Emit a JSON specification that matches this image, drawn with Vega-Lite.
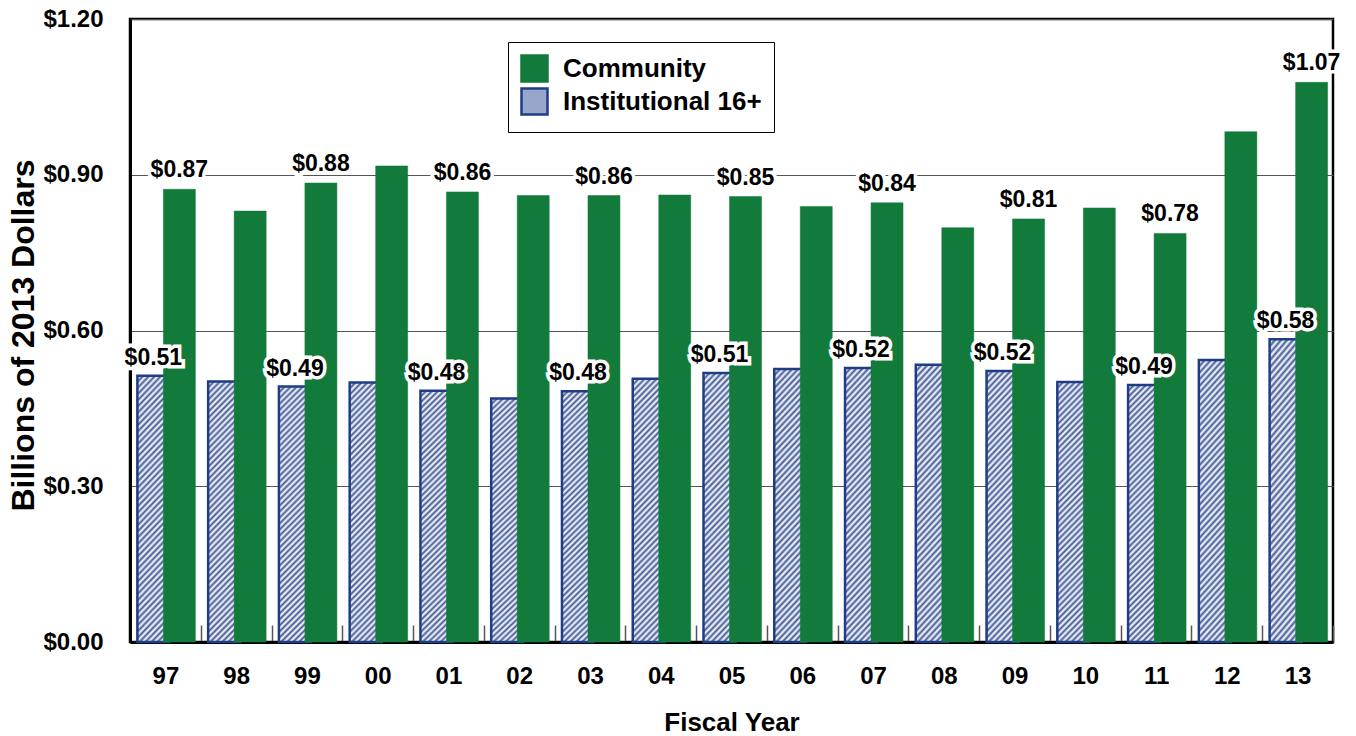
{
  "$schema": "https://vega.github.io/schema/vega-lite/v6.json",
  "width": 1203,
  "height": 623,
  "autosize": {"type": "none"},
  "padding": {"left": 130, "top": 19, "right": 23, "bottom": 94},
  "background": "white",
  "config": {
    "view": {"stroke": "black", "strokeWidth": 2.5},
    "font": "Liberation Sans",
    "legend": {
      "symbolType": "square",
      "symbolSize": 676,
      "symbolStrokeWidth": 2.5,
      "labelFont": "Liberation Sans",
      "labelFontSize": 26,
      "labelFontWeight": "bold",
      "labelColor": "black",
      "labelOffset": 14,
      "labelLimit": 400,
      "padding": 12,
      "rowPadding": -8,
      "strokeColor": "black",
      "fillColor": "white"
    }
  },
  "data": {
    "values": [
      {"year": "97", "series": "Community", "value": 0.872, "label": "$0.87"},
      {"year": "98", "series": "Community", "value": 0.830},
      {"year": "99", "series": "Community", "value": 0.884, "label": "$0.88"},
      {"year": "00", "series": "Community", "value": 0.917},
      {"year": "01", "series": "Community", "value": 0.867, "label": "$0.86"},
      {"year": "02", "series": "Community", "value": 0.860},
      {"year": "03", "series": "Community", "value": 0.860, "label": "$0.86"},
      {"year": "04", "series": "Community", "value": 0.861},
      {"year": "05", "series": "Community", "value": 0.858, "label": "$0.85"},
      {"year": "06", "series": "Community", "value": 0.839},
      {"year": "07", "series": "Community", "value": 0.846, "label": "$0.84"},
      {"year": "08", "series": "Community", "value": 0.798},
      {"year": "09", "series": "Community", "value": 0.815, "label": "$0.81"},
      {"year": "10", "series": "Community", "value": 0.836},
      {"year": "11", "series": "Community", "value": 0.787, "label": "$0.78"},
      {"year": "12", "series": "Community", "value": 0.983},
      {"year": "13", "series": "Community", "value": 1.078, "label": "$1.07"},
      {"year": "97", "series": "Institutional 16+", "value": 0.513, "label": "$0.51"},
      {"year": "98", "series": "Institutional 16+", "value": 0.502},
      {"year": "99", "series": "Institutional 16+", "value": 0.492, "label": "$0.49"},
      {"year": "00", "series": "Institutional 16+", "value": 0.500},
      {"year": "01", "series": "Institutional 16+", "value": 0.484, "label": "$0.48"},
      {"year": "02", "series": "Institutional 16+", "value": 0.469},
      {"year": "03", "series": "Institutional 16+", "value": 0.483, "label": "$0.48"},
      {"year": "04", "series": "Institutional 16+", "value": 0.507},
      {"year": "05", "series": "Institutional 16+", "value": 0.518, "label": "$0.51"},
      {"year": "06", "series": "Institutional 16+", "value": 0.526},
      {"year": "07", "series": "Institutional 16+", "value": 0.528, "label": "$0.52"},
      {"year": "08", "series": "Institutional 16+", "value": 0.534},
      {"year": "09", "series": "Institutional 16+", "value": 0.522, "label": "$0.52"},
      {"year": "10", "series": "Institutional 16+", "value": 0.501},
      {"year": "11", "series": "Institutional 16+", "value": 0.495, "label": "$0.49"},
      {"year": "12", "series": "Institutional 16+", "value": 0.543},
      {"year": "13", "series": "Institutional 16+", "value": 0.583, "label": "$0.58"}
    ]
  },
  "encoding": {
    "x": {
      "field": "year",
      "type": "ordinal",
      "scale": {
        "domain": ["97", "98", "99", "00", "01", "02", "03", "04", "05", "06", "07", "08", "09", "10", "11", "12", "13"],
        "paddingInner": 0,
        "paddingOuter": 0
      },
      "axis": {
        "title": "Fiscal Year",
        "labelAngle": 0,
        "labelFont": "Liberation Sans",
        "labelFontSize": 24,
        "labelFontWeight": "bold",
        "labelColor": "black",
        "labelPadding": 39,
        "tickBand": "extent",
        "tickSize": -17,
        "tickColor": "#555555",
        "tickWidth": 1.5,
        "domainColor": "black",
        "domainWidth": 3,
        "titleFont": "Liberation Sans",
        "titleFontSize": 26,
        "titleFontWeight": "bold",
        "titleColor": "black",
        "titleY": 88,
        "titleBaseline": "alphabetic"
      }
    },
    "y": {
      "field": "value",
      "type": "quantitative",
      "scale": {"domain": [0, 1.2], "nice": false},
      "axis": {
        "title": "Billions of 2013 Dollars",
        "values": [0, 0.3, 0.6, 0.9, 1.2],
        "format": "$.2f",
        "labelFont": "Liberation Sans",
        "labelFontSize": 24,
        "labelFontWeight": "bold",
        "labelColor": "black",
        "labelPadding": 27,
        "ticks": false,
        "domainColor": "black",
        "domainWidth": 3,
        "grid": true,
        "gridColor": "#555555",
        "gridWidth": 1.2,
        "titleFont": "Liberation Sans",
        "titleFontSize": 32,
        "titleFontWeight": "bold",
        "titleColor": "black",
        "titleAngle": 270,
        "titleX": -97,
        "titleY": 316,
        "titleBaseline": "alphabetic"
      }
    }
  },
  "layer": [
    {
      "transform": [{"filter": "datum.series === 'Institutional 16+'"}],
      "mark": {"type": "bar", "width": 32, "xOffset": -12, "strokeWidth": 2.5,
        "fill": {"gradient": "linear", "x1": 0, "y1": 0, "x2": 0.1385, "y2": 1.108, "stops": [
              {"offset": 0, "color": "#42599a"}, {"offset": 0.0104, "color": "#ffffff"}, {"offset": 0.0208, "color": "#42599a"}, {"offset": 0.0313, "color": "#ffffff"}, {"offset": 0.0417, "color": "#42599a"}, {"offset": 0.0521, "color": "#ffffff"}, {"offset": 0.0625, "color": "#42599a"}, {"offset": 0.0729, "color": "#ffffff"}, {"offset": 0.0833, "color": "#42599a"}, {"offset": 0.0938, "color": "#ffffff"}, {"offset": 0.1042, "color": "#42599a"}, {"offset": 0.1146, "color": "#ffffff"}, {"offset": 0.125, "color": "#42599a"}, {"offset": 0.1354, "color": "#ffffff"}, {"offset": 0.1458, "color": "#42599a"}, {"offset": 0.1563, "color": "#ffffff"}, {"offset": 0.1667, "color": "#42599a"}, {"offset": 0.1771, "color": "#ffffff"}, {"offset": 0.1875, "color": "#42599a"}, {"offset": 0.1979, "color": "#ffffff"}, {"offset": 0.2083, "color": "#42599a"}, {"offset": 0.2188, "color": "#ffffff"}, {"offset": 0.2292, "color": "#42599a"}, {"offset": 0.2396, "color": "#ffffff"},
              {"offset": 0.25, "color": "#42599a"}, {"offset": 0.2604, "color": "#ffffff"}, {"offset": 0.2708, "color": "#42599a"}, {"offset": 0.2813, "color": "#ffffff"}, {"offset": 0.2917, "color": "#42599a"}, {"offset": 0.3021, "color": "#ffffff"}, {"offset": 0.3125, "color": "#42599a"}, {"offset": 0.3229, "color": "#ffffff"}, {"offset": 0.3333, "color": "#42599a"}, {"offset": 0.3438, "color": "#ffffff"}, {"offset": 0.3542, "color": "#42599a"}, {"offset": 0.3646, "color": "#ffffff"}, {"offset": 0.375, "color": "#42599a"}, {"offset": 0.3854, "color": "#ffffff"}, {"offset": 0.3958, "color": "#42599a"}, {"offset": 0.4063, "color": "#ffffff"}, {"offset": 0.4167, "color": "#42599a"}, {"offset": 0.4271, "color": "#ffffff"}, {"offset": 0.4375, "color": "#42599a"}, {"offset": 0.4479, "color": "#ffffff"}, {"offset": 0.4583, "color": "#42599a"}, {"offset": 0.4688, "color": "#ffffff"}, {"offset": 0.4792, "color": "#42599a"}, {"offset": 0.4896, "color": "#ffffff"},
              {"offset": 0.5, "color": "#42599a"}, {"offset": 0.5104, "color": "#ffffff"}, {"offset": 0.5208, "color": "#42599a"}, {"offset": 0.5313, "color": "#ffffff"}, {"offset": 0.5417, "color": "#42599a"}, {"offset": 0.5521, "color": "#ffffff"}, {"offset": 0.5625, "color": "#42599a"}, {"offset": 0.5729, "color": "#ffffff"}, {"offset": 0.5833, "color": "#42599a"}, {"offset": 0.5938, "color": "#ffffff"}, {"offset": 0.6042, "color": "#42599a"}, {"offset": 0.6146, "color": "#ffffff"}, {"offset": 0.625, "color": "#42599a"}, {"offset": 0.6354, "color": "#ffffff"}, {"offset": 0.6458, "color": "#42599a"}, {"offset": 0.6563, "color": "#ffffff"}, {"offset": 0.6667, "color": "#42599a"}, {"offset": 0.6771, "color": "#ffffff"}, {"offset": 0.6875, "color": "#42599a"}, {"offset": 0.6979, "color": "#ffffff"}, {"offset": 0.7083, "color": "#42599a"}, {"offset": 0.7188, "color": "#ffffff"}, {"offset": 0.7292, "color": "#42599a"}, {"offset": 0.7396, "color": "#ffffff"},
              {"offset": 0.75, "color": "#42599a"}, {"offset": 0.7604, "color": "#ffffff"}, {"offset": 0.7708, "color": "#42599a"}, {"offset": 0.7813, "color": "#ffffff"}, {"offset": 0.7917, "color": "#42599a"}, {"offset": 0.8021, "color": "#ffffff"}, {"offset": 0.8125, "color": "#42599a"}, {"offset": 0.8229, "color": "#ffffff"}, {"offset": 0.8333, "color": "#42599a"}, {"offset": 0.8438, "color": "#ffffff"}, {"offset": 0.8542, "color": "#42599a"}, {"offset": 0.8646, "color": "#ffffff"}, {"offset": 0.875, "color": "#42599a"}, {"offset": 0.8854, "color": "#ffffff"}, {"offset": 0.8958, "color": "#42599a"}, {"offset": 0.9063, "color": "#ffffff"}, {"offset": 0.9167, "color": "#42599a"}, {"offset": 0.9271, "color": "#ffffff"}, {"offset": 0.9375, "color": "#42599a"}, {"offset": 0.9479, "color": "#ffffff"}, {"offset": 0.9583, "color": "#42599a"}, {"offset": 0.9688, "color": "#ffffff"}, {"offset": 0.9792, "color": "#42599a"}, {"offset": 0.9896, "color": "#ffffff"}, {"offset": 1, "color": "#42599a"}
            ]}},
      "encoding": {
        "stroke": {
          "field": "series",
          "type": "nominal",
          "scale": {"domain": ["Community", "Institutional 16+"], "range": ["#127b3c", "#1f3d85"]},
          "legend": {"title": null, "orient": "none", "legendX": 378, "legendY": 23, "direction": "vertical"}
        }
      }
    },
    {
      "transform": [{"filter": "datum.series === 'Community'"}],
      "mark": {"type": "bar", "width": 32, "xOffset": 14, "strokeWidth": 0.5},
      "encoding": {
        "fill": {
          "field": "series",
          "type": "nominal",
          "scale": {"domain": ["Community", "Institutional 16+"], "range": ["#127b3c", "#98a6cc"]},
          "legend": {"title": null, "orient": "none", "legendX": 378, "legendY": 23, "direction": "vertical"}
        },
        "stroke": {"field": "series", "type": "nominal"}
      }
    },
    {
      "transform": [{"filter": "datum.series === 'Institutional 16+' && isValid(datum.label)"}],
      "mark": {"type": "text", "xOffset": -12, "dy": -11, "baseline": "alphabetic", "font": "Liberation Sans", "fontSize": 23, "fontWeight": "bold", "fill": "white", "stroke": "white", "strokeWidth": 7, "strokeJoin": "miter"},
      "encoding": {"text": {"field": "label"}}
    },
    {
      "transform": [{"filter": "datum.series === 'Institutional 16+' && isValid(datum.label)"}],
      "mark": {"type": "text", "xOffset": -12, "dy": -11, "baseline": "alphabetic", "font": "Liberation Sans", "fontSize": 23, "fontWeight": "bold", "fill": "black"},
      "encoding": {"text": {"field": "label"}}
    },
    {
      "transform": [{"filter": "datum.series === 'Community' && isValid(datum.label)"}],
      "mark": {"type": "text", "xOffset": 14, "dy": -12, "baseline": "alphabetic", "font": "Liberation Sans", "fontSize": 23, "fontWeight": "bold", "fill": "white", "stroke": "white", "strokeWidth": 7, "strokeJoin": "miter"},
      "encoding": {"text": {"field": "label"}}
    },
    {
      "transform": [{"filter": "datum.series === 'Community' && isValid(datum.label)"}],
      "mark": {"type": "text", "xOffset": 14, "dy": -12, "baseline": "alphabetic", "font": "Liberation Sans", "fontSize": 23, "fontWeight": "bold", "fill": "black"},
      "encoding": {"text": {"field": "label"}}
    }
  ]
}
